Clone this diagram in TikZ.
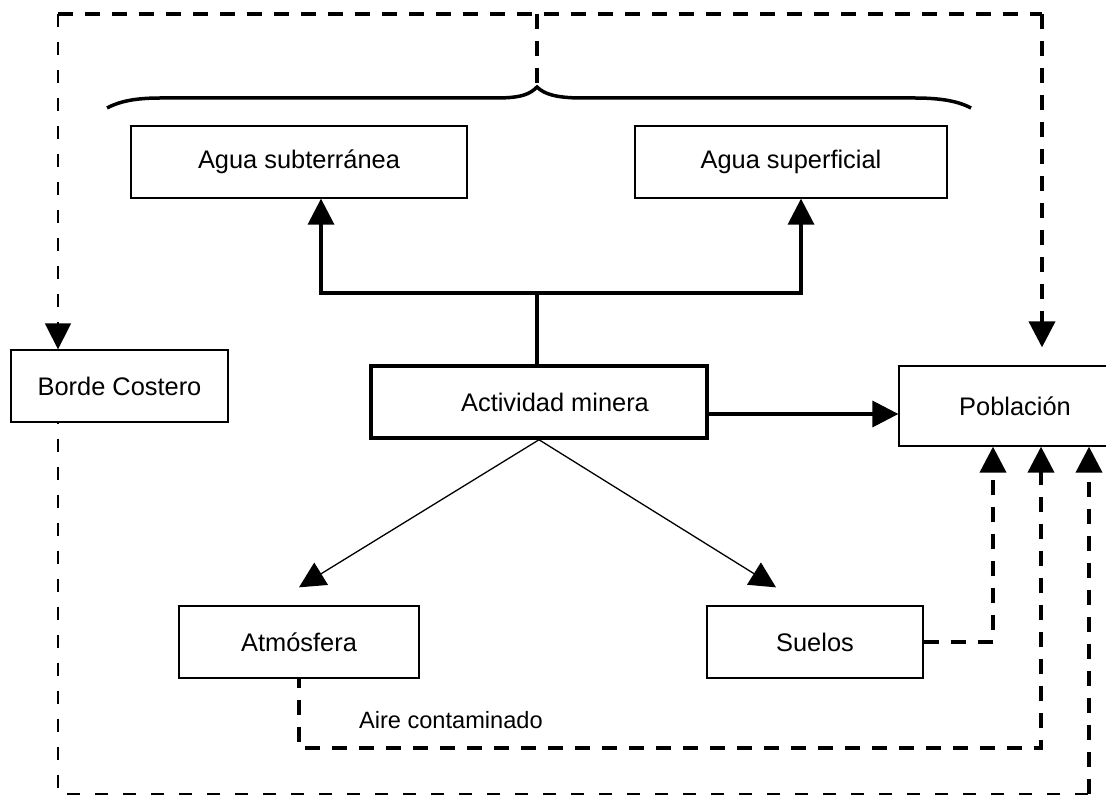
\documentclass[tikz,border=0pt]{standalone}
\usepackage{fontspec}
\setmainfont{Liberation Sans}
\usetikzlibrary{arrows.meta}
\tikzset{
  caja/.style={draw, line width=0.65pt, inner sep=0pt, minimum height=36pt,
    font=\fontsize{12.7}{15}\selectfont},
  flecha/.style={-{Triangle[length=13pt,width=13pt]}},
  fino/.style={line width=0.65pt},
  grueso/.style={line width=1.75pt},
  trazo/.style={line width=0.75pt, dash pattern=on 6.5pt off 7.5pt},
  trazogrueso/.style={line width=2pt, dash pattern=on 7.5pt off 6pt},
}
\begin{document}
\begin{tikzpicture}[x=0.5pt,y=-0.5pt]
    \useasboundingbox (0,0) rectangle (1106,795);
    \clip (0,0) rectangle (1106,795);

    % Boxes:
    \node[caja, minimum width=168pt] (sub) at (299,162) {Agua subterránea};
    \node[caja, minimum width=156pt] (sup) at (791,162) {Agua superficial};
    \node[caja, minimum width=108.5pt] (borde) at (119.5,386) {Borde Costero};
    \node[caja, grueso, minimum width=168pt] (minera) at (539,402) {\hspace*{16pt}Actividad minera};
    \node[caja, minimum width=116pt, minimum height=40pt] (pob) at (1015,406) {Población};
    \node[caja, minimum width=120pt] (atm) at (299,642) {Atmósfera};
    \node[caja, minimum width=108pt] (suelos) at (815,642) {Suelos};

    % Brace over both water boxes
    \coordinate (punta) at (537,87);
    \draw[grueso] (107,108) .. controls (122,100) and (140,98) .. (161,98) -- (496,98)
        .. controls (522,98) and (530,94) .. (punta)
        .. controls (544,94) and (556,98) .. (582,98) -- (914,98)
        .. controls (936,98) and (956,100) .. (971,108);

    % Top frame (dashed):
    \coordinate (izq) at (58,14);
    \coordinate (der) at (1042,14);
    \coordinate (centro) at (537,14);
    \draw[trazogrueso] (izq) -- (der);
    \draw[trazogrueso] (centro) -- (punta);
    \draw[trazo, flecha] (izq) -- (borde.north -| izq);
    \draw[trazogrueso, flecha] (der) -- ([yshift=9pt]pob.north -| der);

    % Mining activity to water
    \coordinate (ramal) at (537,293);
    \draw[grueso] (ramal |- minera.north) -- (ramal);
    \draw[grueso, flecha] (ramal) -| ([xshift=11pt]sub.south);
    \draw[grueso, flecha] (ramal) -| ([xshift=5pt]sup.south);
    \draw[grueso, flecha] ([yshift=-6pt]minera.east) -- ([yshift=-6pt]minera.east -| pob.west);

    % Mining activity to air and soil
    \draw[fino, flecha] (minera.south) -- ([yshift=9pt]atm.north);
    \draw[fino, flecha] (minera.south) -- ([xshift=-19.5pt,yshift=9pt]suelos.north);

    % Back to the population (dashed):
    \coordinate (vueltaAire) at (1041,748);
    \coordinate (esquina) at (1089,794);
    \draw[trazogrueso, flecha] (suelos.east) -| ([xshift=-11pt]pob.south);
    \draw[trazogrueso, flecha, dash phase=3pt] (atm.south) |- (vueltaAire) -- (vueltaAire |- pob.south);
    \draw[trazo, dash phase=6pt] (borde.south -| izq) |- (esquina);
    \draw[trazogrueso, flecha] (esquina) -- (esquina |- pob.south);

    \node[font=\fontsize{11.8}{14}\selectfont, anchor=west] (aire) at (352,720) {Aire contaminado};
\end{tikzpicture}
\end{document}
